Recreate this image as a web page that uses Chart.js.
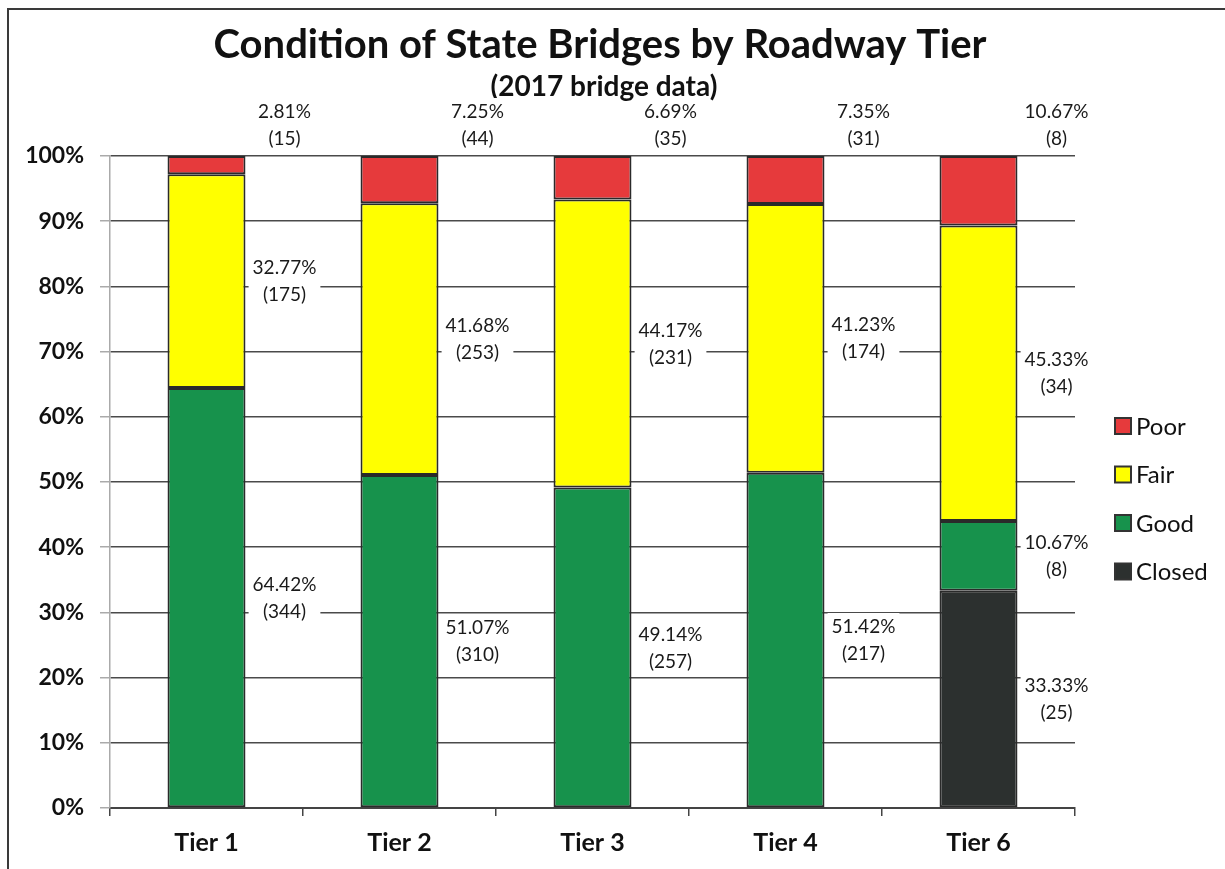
<!DOCTYPE html>
<html>
<head>
<meta charset="utf-8">
<title>Condition of State Bridges by Roadway Tier</title>
<script src="https://cdn.jsdelivr.net/npm/chart.js@4.4.1/dist/chart.umd.min.js"></script>
<style>
  html, body { margin: 0; padding: 0; background: #fff; }
  #wrap { width: 1225px; height: 869px; position: relative; }
</style>
</head>
<body>
<div id="wrap"><canvas id="bridgeChart" width="1225" height="869"></canvas></div>
<script>
const chartTitle = "Condition of State Bridges by Roadway Tier";
const chartSubtitle = "(2017 bridge data)";

const tiers = ["Tier 1", "Tier 2", "Tier 3", "Tier 4", "Tier 6"];

// percentages per condition (bottom to top of each stack)
const closedPct = [0, 0, 0, 0, 33.33];
const goodPct   = [64.42, 51.07, 49.14, 51.42, 10.67];
const fairPct   = [32.77, 41.68, 44.17, 41.23, 45.33];
const poorPct   = [2.81, 7.25, 6.69, 7.35, 10.67];

// bridge counts shown under each percentage
const closedCount = [0, 0, 0, 0, 25];
const goodCount   = [344, 310, 257, 217, 8];
const fairCount   = [175, 253, 231, 174, 34];
const poorCount   = [15, 44, 35, 31, 8];

const yTicks = [0, 10, 20, 30, 40, 50, 60, 70, 80, 90, 100];

const FONT = "Lato, 'Open Sans', 'Liberation Sans', sans-serif";

const series = [
    { label: "Closed", data: closedPct, counts: closedCount, color: "#2c302f" },
    { label: "Good",   data: goodPct,   counts: goodCount,   color: "#17924c" },
    { label: "Fair",   data: fairPct,   counts: fairCount,   color: "#ffff00" },
    { label: "Poor",   data: poorPct,   counts: poorCount,   color: "#e63a3c" }
];

// white page, scanned frame on top and left, and the two title lines
const frame = {
    id: "frame",
    beforeDraw(chart) {
        const ctx = chart.ctx;
        ctx.save();
        ctx.fillStyle = "#fff";
        ctx.fillRect(0, 0, chart.width, chart.height);
        ctx.strokeStyle = "#3a3a3a";
        ctx.lineWidth = 2;
        ctx.beginPath();
        ctx.moveTo(8, chart.height);
        ctx.lineTo(8, 9);
        ctx.lineTo(chart.width, 9);
        ctx.stroke();

        ctx.fillStyle = "#111";
        ctx.textAlign = "center";
        ctx.textBaseline = "middle";
        ctx.font = "bold 40px " + FONT;
        ctx.fillText(chartTitle, 600, 45);
        ctx.font = "bold 28px " + FONT;
        ctx.fillText(chartSubtitle, 604, 87);
        ctx.restore();
    }
};

// labels to the right of each bar segment, Poor ones above the plot
const sideLabels = {
    id: "sideLabels",
    afterDatasetsDraw(chart) {
        const ctx = chart.ctx;
        const top = chart.chartArea.top;
        ctx.save();
        ctx.font = "19px " + FONT;
        ctx.textAlign = "center";
        ctx.textBaseline = "middle";
        chart.data.datasets.forEach((ds, di) => {
            const meta = chart.getDatasetMeta(di);
            meta.data.forEach((bar, i) => {
                const v = ds.data[i];
                if (!v) return;
                const x = bar.x + bar.width / 2 + 39;
                let y = (bar.y + bar.base) / 2;
                if (ds.label === "Poor") y = top - 31;
                const l1 = v.toFixed(2) + "%";
                const l2 = "(" + ds.counts[i] + ")";
                const w = Math.max(ctx.measureText(l1).width, ctx.measureText(l2).width) + 8;
                ctx.fillStyle = "#fff";
                ctx.fillRect(x - w / 2, y - 27, w, 54);
                ctx.fillStyle = "#1a1a1a";
                ctx.fillText(l1, x, y - 13);
                ctx.fillText(l2, x, y + 14);
            });
        });
        ctx.restore();
    }
};

// right-hand legend, Poor at the top
const sideLegend = {
    id: "sideLegend",
    afterDraw(chart) {
        const ctx = chart.ctx;
        const x0 = chart.chartArea.right + 40;
        let y = 426;
        ctx.save();
        ctx.font = "24px " + FONT;
        ctx.textBaseline = "middle";
        ctx.textAlign = "left";
        [...chart.data.datasets].reverse().forEach(ds => {
            ctx.fillStyle = ds.backgroundColor;
            ctx.fillRect(x0, y - 8, 16, 16);
            ctx.strokeStyle = "#333";
            ctx.lineWidth = 2;
            ctx.strokeRect(x0, y - 8, 16, 16);
            ctx.fillStyle = "#111";
            ctx.fillText(ds.label, x0 + 21, y + 1);
            y += 48.5;
        });
        ctx.restore();
    }
};

new Chart(document.getElementById("bridgeChart"), {
    type: "bar",
    data: {
        labels: tiers,
        datasets: series.map(s => ({
            label: s.label,
            data: s.data,
            counts: s.counts,
            backgroundColor: s.color,
            borderColor: "#2a2a2a",
            borderWidth: 2,
            borderSkipped: false,
            categoryPercentage: 1,
            barPercentage: 0.404
        }))
    },
    options: {
        responsive: false,
        animation: false,
        layout: { autoPadding: false, padding: { left: 0, right: 150, top: 156, bottom: 0 } },
        plugins: {
            legend: { display: false },
            tooltip: { enabled: false },
            title: { display: false }
        },
        scales: {
            x: {
                stacked: true,
                grid: { drawOnChartArea: false, drawTicks: true, tickLength: 8, color: "#444", lineWidth: 1.5 },
                border: { color: "#444", width: 2 },
                ticks: { color: "#111", padding: 12, font: { family: FONT, size: 25, weight: "bold" } },
                afterFit(scale) { scale.height = 61; }
            },
            y: {
                stacked: true,
                min: 0,
                max: 100,
                afterBuildTicks(scale) { scale.ticks = yTicks.map(v => ({ value: v })); },
                grid: { color: "#4a4a4a", lineWidth: 1.5, tickLength: 10, tickColor: "#aaa" },
                border: { color: "#aaa", width: 1.5 },
                ticks: {
                    color: "#111",
                    padding: 16,
                    font: { family: FONT, size: 23, weight: "bold" },
                    callback: v => v + "%"
                },
                afterFit(scale) { scale.width = 110; }
            }
        }
    },
    plugins: [frame, sideLabels, sideLegend]
});
</script>
</body>
</html>
